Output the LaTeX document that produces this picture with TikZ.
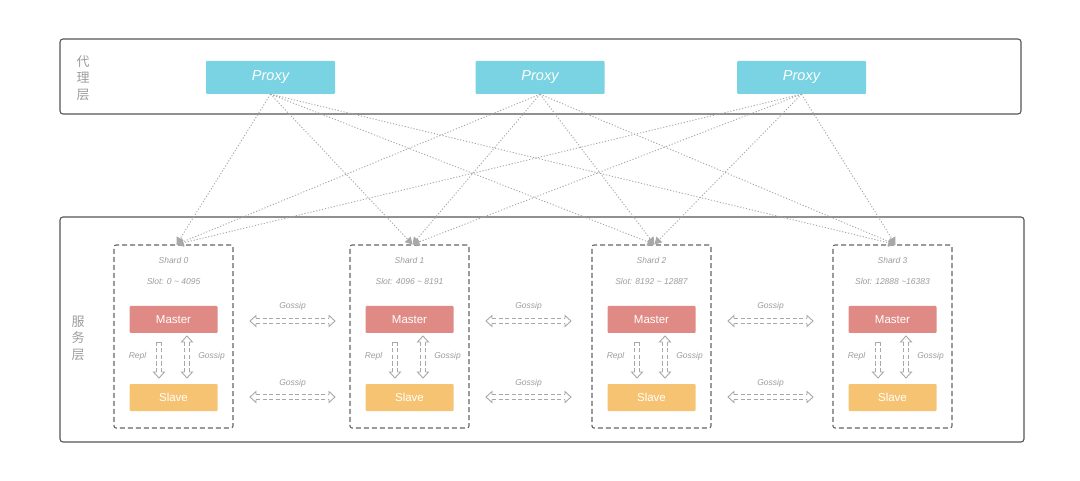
\documentclass[tikz,border=0pt]{standalone}
\usepackage{fontspec}
\setmainfont{Liberation Sans}
\newfontfamily\cjkfont{Noto Sans CJK SC}
\usetikzlibrary{arrows.meta,calc}
\definecolor{proxyc}{HTML}{7AD3E3}
\definecolor{masterc}{HTML}{E08A85}
\definecolor{slavec}{HTML}{F6C372}
\definecolor{labelc}{HTML}{9C9C9C}
\definecolor{framec}{HTML}{555555}
\definecolor{dashc}{HTML}{666666}
\definecolor{hollc}{HTML}{A8A8A8}
\tikzset{
  layerbox/.style={draw=framec,line width=1.1pt,rounded corners=3pt},
  proxybox/.style={fill=proxyc,minimum width=129pt,minimum height=33pt,inner sep=0pt,rounded corners=1pt,text=white,font=\fontsize{14.5}{16}\selectfont\itshape},
  masterbox/.style={fill=masterc,minimum width=88pt,minimum height=27pt,inner sep=0pt,rounded corners=1pt,text=white,font=\fontsize{11.5}{13}\selectfont},
  slavebox/.style={fill=slavec,minimum width=88pt,minimum height=27pt,inner sep=0pt,rounded corners=1pt,text=white,font=\fontsize{11.5}{13}\selectfont},
  shardbox/.style={draw=dashc,line width=1.1pt,dash pattern=on 5pt off 3pt,minimum width=119pt,minimum height=183pt,inner sep=0pt,rounded corners=2pt},
  glabel/.style={text=labelc,font=\fontsize{8.5}{10}\selectfont\itshape,inner sep=1pt},
  layerlabel/.style={text=labelc,font=\cjkfont\fontsize{13}{13}\selectfont,align=center,inner sep=0pt},
  linkline/.style={draw=hollc,line width=0.9pt,dash pattern=on 1.2pt off 1.8pt,-{Triangle[length=7pt,width=8pt]}},
  hshaft/.style={draw=hollc,line width=0.9pt,dash pattern=on 4pt off 2.5pt},
  hhead/.style={draw=hollc,line width=0.9pt,line join=miter},
}
% horizontal double-headed hollow arrow between coordinates #1 (left) and #2 (right)
\newcommand\hollowHH[2]{%
  \draw[hshaft] ($(#1)+(6,-2.5)$) -- ($(#2)+(-6,-2.5)$);
  \draw[hshaft] ($(#1)+(6,2.5)$) -- ($(#2)+(-6,2.5)$);
  \draw[hhead] ($(#1)+(6,-2.5)$) -- ($(#1)+(6,-5.5)$) -- (#1) -- ($(#1)+(6,5.5)$) -- ($(#1)+(6,2.5)$);
  \draw[hhead] ($(#2)+(-6,-2.5)$) -- ($(#2)+(-6,-5.5)$) -- (#2) -- ($(#2)+(-6,5.5)$) -- ($(#2)+(-6,2.5)$);
}
% vertical double-headed hollow arrow between #1 (top) and #2 (bottom)
\newcommand\hollowVV[2]{%
  \draw[hshaft] ($(#1)+(-2.5,6)$) -- ($(#2)+(-2.5,-6)$);
  \draw[hshaft] ($(#1)+(2.5,6)$) -- ($(#2)+(2.5,-6)$);
  \draw[hhead] ($(#1)+(-2.5,6)$) -- ($(#1)+(-5.5,6)$) -- (#1) -- ($(#1)+(5.5,6)$) -- ($(#1)+(2.5,6)$);
  \draw[hhead] ($(#2)+(-2.5,-6)$) -- ($(#2)+(-5.5,-6)$) -- (#2) -- ($(#2)+(5.5,-6)$) -- ($(#2)+(2.5,-6)$);
}
% vertical down hollow arrow from #1 (top, closed tail) to #2 (bottom)
\newcommand\hollowVD[2]{%
  \draw[hshaft] ($(#1)+(-2.5,0)$) -- ($(#2)+(-2.5,-6)$);
  \draw[hshaft] ($(#1)+(2.5,0)$) -- ($(#2)+(2.5,-6)$);
  \draw[hhead] ($(#1)+(-2.5,2)$) -- ($(#1)+(-2.5,0)$) -- ($(#1)+(2.5,0)$) -- ($(#1)+(2.5,2)$);
  \draw[hhead] ($(#2)+(-2.5,-6)$) -- ($(#2)+(-5.5,-6)$) -- (#2) -- ($(#2)+(5.5,-6)$) -- ($(#2)+(2.5,-6)$);
}
\begin{document}
\begin{tikzpicture}[x=1pt,y=-1pt]
\useasboundingbox (0,0) rectangle (1080,481);
% layers
\draw[layerbox] (60,39) rectangle (1021,114);
\draw[layerbox] (60,217) rectangle (1024,442);
\node[layerlabel] (lp) at (83,78) {代\\[3.5pt]理\\[3.5pt]层};
\node[layerlabel] (ls) at (78,338) {服\\[3.5pt]务\\[3.5pt]层};
% proxies
\node[proxybox] (p0) at (270.5,77.5) {Proxy};
\node[proxybox] (p1) at (540,77.5) {Proxy};
\node[proxybox] (p2) at (801.5,77.5) {Proxy};
% shards
\foreach \i/\cx/\slot in {0/173.5/{Slot: 0 \textasciitilde{} 4095},1/409.5/{Slot: 4096 \textasciitilde{} 8191},2/651.5/{Slot: 8192 \textasciitilde{} 12887},3/892.5/{Slot: 12888 \textasciitilde16383}}{
  \node[shardbox] (s\i) at (\cx,336.5) {};
  \node[glabel] (sn\i) at (\cx,260) {Shard \i};
  \node[glabel] (sl\i) at (\cx,281) {\slot};
  \node[masterbox] (m\i) at (\cx,319.5) {Master};
  \node[slavebox] (v\i) at (\cx,397.5) {Slave};
  \coordinate (ra\i) at (\cx-14.5,342);
  \coordinate (rb\i) at (\cx-14.5,378);
  \coordinate (ga\i) at (\cx+13.5,336);
  \coordinate (gb\i) at (\cx+13.5,378);
  \hollowVD{ra\i}{rb\i}
  \hollowVV{ga\i}{gb\i}
  \node[glabel] (rl\i) at (\cx-36,356) {Repl};
  \node[glabel] (gl\i) at (\cx+38,356) {Gossip};
}
% proxy links
\foreach \p in {0,1,2}{
  \foreach \s in {0,1,2,3}{
    \draw[linkline] (p\p.south) -- ([xshift=3pt]s\s.north);
  }
}
% horizontal gossip arrows
\foreach \j/\xa/\xb in {0/250/335,1/486/571,2/728/813}{
  \coordinate (ha\j) at (\xa,321);
  \coordinate (hb\j) at (\xb,321);
  \coordinate (hc\j) at (\xa,397);
  \coordinate (hd\j) at (\xb,397);
  \hollowHH{ha\j}{hb\j}
  \hollowHH{hc\j}{hd\j}
  \node[glabel] (gt\j) at ({(\xa+\xb)/2},306) {Gossip};
  \node[glabel] (gu\j) at ({(\xa+\xb)/2},383) {Gossip};
}
\end{tikzpicture}
\end{document}
